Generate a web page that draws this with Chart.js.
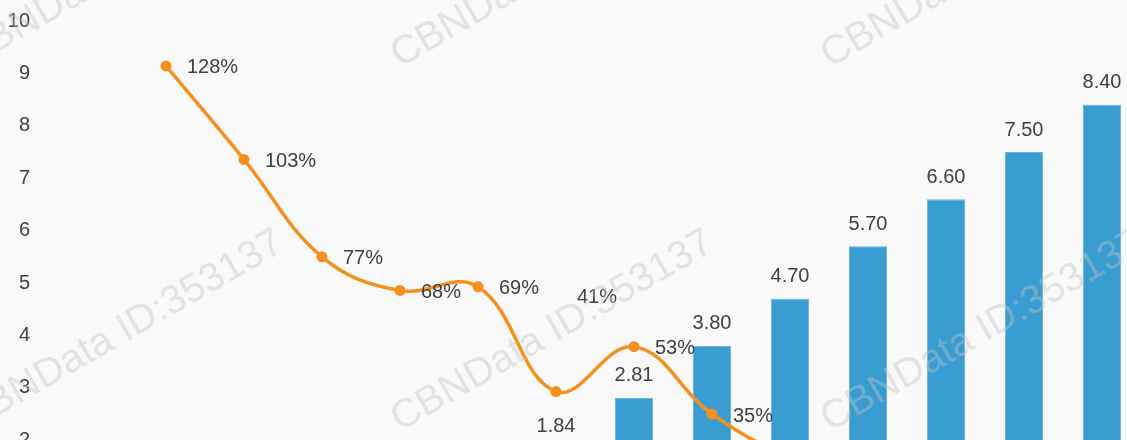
<!DOCTYPE html>
<html>
<head>
<meta charset="utf-8">
<script src="https://cdn.jsdelivr.net/npm/chart.js@4"></script>
<style>
  html, body { margin: 0; padding: 0; background: #f9f9f9; overflow: hidden; }
  #wrap { position: absolute; left: 0; top: 0; width: 1150px; height: 561px; }
</style>
</head>
<body>
<div id="wrap"><canvas id="grafico" width="1150" height="561"></canvas></div>
<script>
// Datos (la parte baja queda fuera del recorte)
const categorias = ['2011', '2012', '2013', '2014', '2015', '2016', '2017',
                    '2018', '2019', '2020', '2021', '2022', '2023', '2024'];
const valores = [0.06, 0.13, 0.26, 0.46, 0.77, 1.31, 1.84, 2.81, 3.80, 4.70, 5.70, 6.60, 7.50, 8.40];
const crecimiento = [null, 128, 103, 77, 68, 69, 41, 53, 35, 24, 21, 16, 14, 12];
const ticksIzq = [0, 1, 2, 3, 4, 5, 6, 7, 8, 9, 10];

const fuente = '"Liberation Sans", Arial, sans-serif';
const colorTexto = '#404040';

// Etiquetas de valores sobre barras y puntos
const etiquetas = {
    id: 'etiquetas',
    afterDatasetsDraw(chart) {
        const ctx = chart.ctx;
        ctx.save();
        ctx.font = '20px ' + fuente;
        ctx.fillStyle = colorTexto;
        ctx.textBaseline = 'middle';

        const barras = chart.getDatasetMeta(1);
        ctx.textAlign = 'center';
        barras.data.forEach((el, i) => {
            ctx.fillText(valores[i].toFixed(2), el.x, el.y - 22);
        });

        const linea = chart.getDatasetMeta(0);
        ctx.textAlign = 'left';
        linea.data.forEach((el, i) => {
            if (crecimiento[i] == null) return;
            const dy = i === 6 ? -94 : 2; // la etiqueta del 41% va desplazada arriba
            ctx.fillText(crecimiento[i] + '%', el.x + 21, el.y + dy);
        });
        ctx.restore();
    }
};

// Marca de agua
const marcaAgua = {
    id: 'marcaAgua',
    afterDraw(chart) {
        const ctx = chart.ctx;
        ctx.save();
        ctx.font = '40px ' + fuente;
        ctx.fillStyle = 'rgba(195, 195, 195, 0.4)';
        ctx.textAlign = 'left';
        ctx.textBaseline = 'alphabetic';
        for (let j = 0; j < 2; j++) {
            for (let i = 0; i < 3; i++) {
                ctx.save();
                ctx.translate(-30 + 430 * i, 68 + 364 * j);
                ctx.rotate(-Math.PI / 6);
                ctx.fillText('CBNData ID:353137', 0, 0);
                ctx.restore();
            }
        }
        ctx.restore();
    }
};

function generarGrafico() {
    const ctx = document.getElementById('grafico').getContext('2d');
    new Chart(ctx, {
        data: {
            labels: categorias,
            datasets: [{
                type: 'line',
                label: '增速',
                data: crecimiento,
                yAxisID: 'y1',
                borderColor: '#f5901f',
                backgroundColor: '#f5901f',
                pointBackgroundColor: '#f5901f',
                pointBorderWidth: 0,
                borderWidth: 3.5,
                pointRadius: 5.5,
                tension: 0.4,
                order: 0
            }, {
                type: 'bar',
                label: '规模',
                data: valores,
                yAxisID: 'y',
                backgroundColor: '#3a9dd2',
                borderColor: '#62b1de',
                borderWidth: 1,
                barPercentage: 0.49,
                categoryPercentage: 1,
                order: 1
            }]
        },
        options: {
            responsive: false,
            animation: false,
            layout: { padding: { top: 21, right: 9, bottom: 16, left: 0 } },
            plugins: {
                legend: { display: false },
                tooltip: { enabled: false }
            },
            scales: {
                x: { display: false },
                y: {
                    min: 0,
                    max: 10,
                    afterFit(scale) { scale.width = 49; },
                    afterBuildTicks(scale) { scale.ticks = ticksIzq.map(v => ({ value: v })); },
                    grid: { display: false, drawTicks: true, tickLength: 19 },
                    border: { display: false },
                    ticks: {
                        padding: 0,
                        color: colorTexto,
                        font: { size: 20, family: fuente }
                    }
                },
                y1: {
                    display: false,
                    position: 'right',
                    min: 0,
                    max: 140
                }
            }
        },
        plugins: [etiquetas, marcaAgua]
    });
}

window.onload = generarGrafico;
</script>
</body>
</html>
